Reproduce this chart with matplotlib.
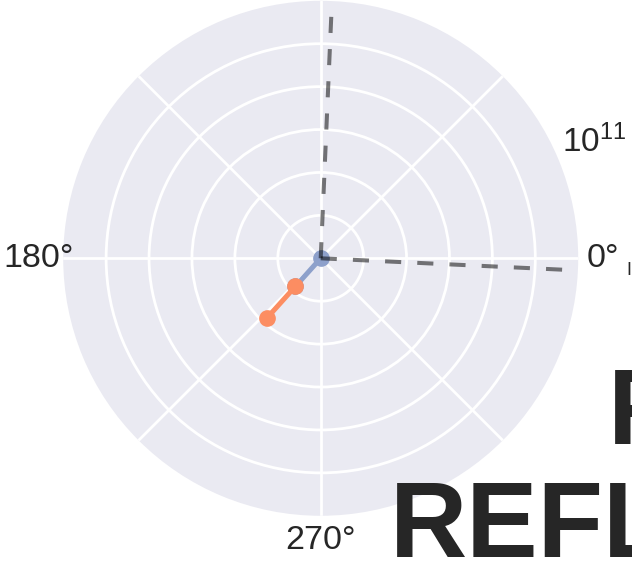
import numpy as np
import matplotlib
matplotlib.use("Agg")
import matplotlib.pyplot as plt
import seaborn as sns

sns.set_style("darkgrid")
plt.rcParams['font.family'] = ['Liberation Sans', 'DejaVu Sans']
plt.rcParams['mathtext.fontset'] = 'custom'
plt.rcParams['mathtext.rm'] = 'Liberation Sans'

# ---- dati ----
# due vettori consecutivi (r in unita' di 1e11)
theta_vec = [228.0, 228.0]          # deg
r_start   = [0.0, 0.88]
r_end     = [0.88, 1.86]
vec_colors = ["#8DA0CB", "#FC8D62"]

# direzioni di riferimento tratteggiate
ref_theta = [87.5, -2.7]            # deg
ref_r     = [0.0, 6.0]

r_grid    = [1, 2, 3, 4, 5]
r_max     = 6.0
theta_ticks  = [0, 45, 90, 135, 180, 225, 270, 315]
theta_labels = ["0°", "", "", "", "180°", "", "270°", ""]

fig = plt.figure(figsize=(6.32, 5.70), dpi=100)
ax = fig.add_axes([0.1000, 0.0951, 0.8149, 0.9035], projection="polar")
ax.set_facecolor("#EAEAF2")
ax.grid(True, color="white", lw=2.0)
ax.spines["polar"].set_visible(False)

for th in ref_theta:
    ax.plot([np.deg2rad(th)]*2, ref_r, color="k", alpha=0.52, lw=2.9,
            dashes=(4, 4), zorder=5)

for th, r0, r1, c in zip(theta_vec, r_start, r_end, vec_colors):
    ax.plot([np.deg2rad(th)]*2, [r0, r1], color=c, lw=3.6, marker="o",
            ms=11, zorder=3)

ax.set_rlim(0, r_max)
ax.set_rgrids(r_grid, labels=[""]*len(r_grid))
ax.set_thetagrids(theta_ticks, labels=theta_labels, fontsize=24.5)
ax.tick_params(axis="x", pad=7, colors="#262626")
ax.text(np.deg2rad(23.8), 6.15, r"$\mathdefault{10^{11}}$", fontsize=24,
        color="#262626", ha="left", va="baseline", clip_on=False)

# testo grande tagliato a destra
fig.text(608/632, 1-444/570, "F", fontsize=77, fontweight="bold",
         color="#262626", ha="left", va="baseline")
fig.text(390/632, 1-557/570, "REFL", fontsize=77, fontweight="bold",
         color="#262626", ha="left", va="baseline")
fig.text(626/632, 1-275/570, "I", fontsize=13, color="#262626",
         ha="left", va="baseline")

fig.savefig("out.png", dpi=100)
